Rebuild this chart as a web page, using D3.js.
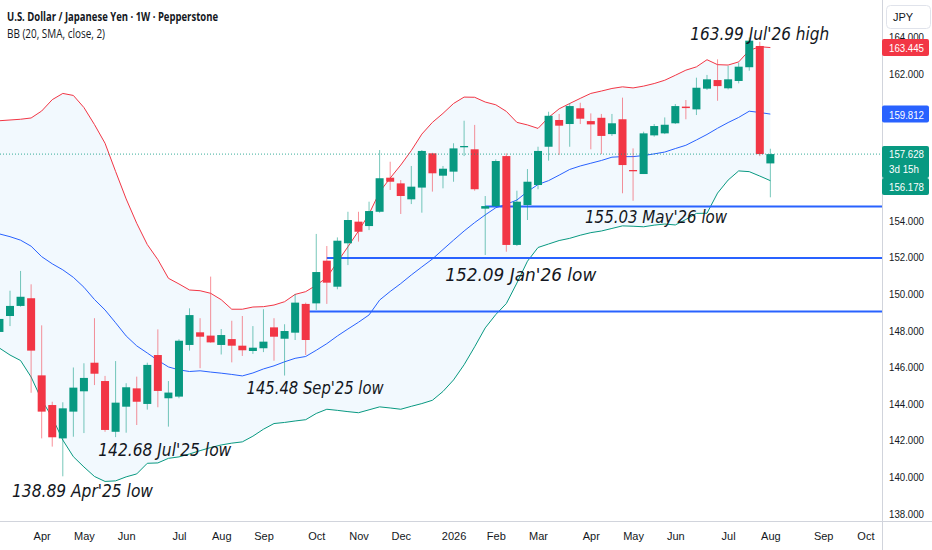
<!DOCTYPE html>
<html><head><meta charset="utf-8">
<script src="https://cdn.jsdelivr.net/npm/d3@7"></script>
<style>
html,body{margin:0;padding:0;background:#fff;overflow:hidden}
svg{display:block}
</style></head><body>
<svg id="c" width="932" height="550"></svg>
<script>
// ---------------- DATA ----------------
const dates = ["2025-03-10","2025-03-17","2025-03-24","2025-03-31","2025-04-07","2025-04-14","2025-04-21","2025-04-28",
"2025-05-05","2025-05-12","2025-05-19","2025-05-26","2025-06-02","2025-06-09","2025-06-16","2025-06-23","2025-06-30",
"2025-07-07","2025-07-14","2025-07-21","2025-07-28","2025-08-04","2025-08-11","2025-08-18","2025-08-25",
"2025-09-01","2025-09-08","2025-09-15","2025-09-22","2025-09-29","2025-10-06","2025-10-13","2025-10-20","2025-10-27",
"2025-11-03","2025-11-10","2025-11-17","2025-11-24","2025-12-01","2025-12-08","2025-12-15","2025-12-22","2025-12-29",
"2026-01-05","2026-01-12","2026-01-19","2026-01-26","2026-02-02","2026-02-09","2026-02-16","2026-02-23",
"2026-03-02","2026-03-09","2026-03-16","2026-03-23","2026-03-30","2026-04-06","2026-04-13","2026-04-20","2026-04-27",
"2026-05-04","2026-05-11","2026-05-18","2026-05-25","2026-06-01","2026-06-08","2026-06-15","2026-06-22","2026-06-29",
"2026-07-06","2026-07-13","2026-07-20","2026-07-27","2026-08-03"];
const opens  = [147.92,148.79,149.34,149.76,145.55,143.93,142.11,143.57,144.68,146.24,145.24,142.47,143.84,144.84,143.99,146.66,144.30,144.39,147.21,147.90,147.72,147.21,147.53,147.17,146.88,147.03,148.17,147.55,147.88,149.45,149.48,151.81,150.39,152.76,153.94,153.70,154.48,156.34,156.03,155.16,155.80,157.67,156.45,156.67,158.00,157.89,154.65,154.79,157.52,152.67,154.85,155.94,158.03,159.49,159.27,160.13,159.43,159.61,158.72,159.53,156.76,156.54,158.65,158.76,159.31,160.22,160.07,161.20,161.67,161.22,161.62,162.37,163.53,157.12];
const highs  = [148.90,150.17,151.25,150.52,148.28,144.11,144.08,145.98,146.21,148.67,145.52,146.33,145.12,145.48,146.24,148.06,145.24,147.52,149.21,148.67,150.94,148.08,148.53,148.79,148.24,149.16,148.67,148.34,149.99,149.52,153.27,152.61,153.08,154.48,154.48,155.03,157.85,157.21,156.21,156.98,157.85,157.70,156.98,158.22,159.45,159.22,155.34,157.34,157.67,155.63,156.81,158.03,159.94,159.82,160.40,160.43,159.85,159.82,159.82,160.71,157.94,158.85,159.27,159.63,160.36,160.58,161.80,161.95,162.80,162.44,162.62,163.99,163.76,157.92];
const lows   = [147.60,148.24,149.30,144.60,142.11,141.66,140.04,142.20,142.40,145.02,142.47,142.18,142.42,142.84,143.68,143.81,142.75,144.30,146.90,145.94,147.33,146.69,146.26,146.61,146.72,146.82,146.35,145.54,147.48,146.66,149.12,149.45,150.25,151.57,152.85,153.48,154.43,155.67,154.36,154.90,154.43,155.58,155.76,156.12,157.52,155.63,152.12,154.75,152.30,152.61,154.03,155.71,157.27,157.58,158.03,159.27,157.89,157.63,158.62,155.49,155.08,156.54,158.58,158.72,159.27,159.53,159.76,161.13,160.54,161.16,161.49,162.18,157.52,155.27];
const closes = [148.63,149.34,149.84,146.90,143.57,142.17,143.75,144.88,145.41,145.64,142.57,144.06,144.90,144.11,146.12,144.70,144.61,147.44,148.84,147.66,147.35,147.75,147.17,146.92,147.06,147.39,147.66,147.97,149.52,147.48,151.19,150.61,152.90,154.03,153.39,154.52,156.31,156.12,155.34,155.85,157.80,156.58,156.83,157.94,158.07,155.71,154.79,157.25,152.67,155.03,156.12,157.80,159.72,159.18,160.25,159.56,159.25,158.62,159.31,157.03,156.69,158.76,159.16,159.23,160.25,160.14,161.25,161.71,161.34,161.71,162.40,163.82,157.63,157.628];

// Bollinger Bands (20, SMA, close, 2)
const bbUpper = [159.45,159.49,159.53,159.60,159.98,160.60,160.94,160.83,160.17,159.24,158.22,156.68,155.18,153.85,152.69,151.87,150.85,150.54,150.21,150.17,150.03,149.68,149.16,149.16,149.28,149.30,149.39,149.57,149.97,150.12,150.47,150.89,151.74,152.57,153.43,154.36,155.56,156.32,157.03,157.82,158.72,159.36,159.85,160.39,160.74,160.73,160.47,160.32,159.96,159.36,159.22,159.03,159.63,160.10,160.39,160.67,160.94,161.07,161.21,161.30,161.24,161.34,161.48,161.66,161.93,162.21,162.39,162.78,162.51,162.49,162.66,163.29,163.49,163.445];
const bbBasis = [153.27,153.12,152.93,152.60,152.03,151.64,151.31,150.90,150.36,149.69,149.12,148.42,147.70,147.16,146.77,146.37,146.01,145.85,145.76,145.80,145.73,145.67,145.60,145.52,145.68,145.90,146.07,146.29,146.48,146.58,146.92,147.28,147.70,148.08,148.45,148.85,149.66,150.13,150.56,151.03,151.47,151.90,152.42,152.93,153.43,153.89,154.31,154.70,154.89,155.12,155.58,155.97,156.18,156.48,156.79,156.98,157.13,157.28,157.46,157.49,157.49,157.55,157.64,157.74,157.93,158.11,158.40,158.70,159.04,159.35,159.63,159.97,159.90,159.812];
const bbLower = [147.04,146.66,146.36,145.46,144.21,143.25,142.02,141.11,140.55,140.03,139.76,139.79,140.01,140.17,140.75,140.77,141.02,141.10,141.26,141.44,141.61,141.75,141.85,141.92,142.23,142.61,142.92,142.98,143.06,143.13,143.47,143.70,143.64,143.57,143.51,143.67,143.83,143.77,143.70,143.86,144.01,144.19,144.67,145.30,146.13,147.11,148.14,148.87,149.47,150.59,151.78,152.53,152.72,152.91,153.03,153.20,153.34,153.43,153.57,153.71,153.69,153.66,153.75,153.81,153.76,154.06,154.39,154.40,155.50,156.21,156.71,156.67,156.43,156.178];

// price ticks visible on the scale (156/158/160 sit behind the value labels)
const priceTicks = [138,140,142,144,146,148,150,152,154,162,164];
const monthTickDates  = ["2025-04-07","2025-05-05","2025-06-02","2025-07-07","2025-08-04","2025-09-01","2025-10-06","2025-11-03","2025-12-01","2026-01-05","2026-02-02","2026-03-02","2026-04-06","2026-05-04","2026-06-01","2026-07-06","2026-08-03","2026-09-07","2026-10-05"];
const monthTickLabels = ["Apr","May","Jun","Jul","Aug","Sep","Oct","Nov","Dec","2026","Feb","Mar","Apr","May","Jun","Jul","Aug","Sep","Oct"];

// horizontal support levels (price, start date)
const levelPrices = [154.77, 151.96, 149.03];
const levelStarts = ["2026-01-26","2025-10-13","2025-09-29"];

// annotation texts anchored at (date, price)
const annoTexts  = ["163.99 Jul'26 high","155.03 May'26 low","152.09 Jan'26 low","145.48 Sep'25 low","142.68 Jul'25 low","138.89 Apr'25 low"];
const annoDates  = ["2026-07-20","2026-05-04","2026-01-26","2025-09-15","2025-07-07","2025-04-21"];
const annoPrices = [163.99,155.03,152.09,145.48,142.68,138.89];

const lastPrice = 157.628, countdown = "3d 15h";

// ---------------- LAYOUT ----------------
const W = 932, H = 550, plotW = 882, plotH = 521;
const annoOffsets = [[-59,2.5,139],[-48,21.3,142],[-40,25,151],[-38,17.4,137],[-80.7,27.8,133],[-50.8,0,141]];
const GREEN = "#089981", RED = "#f23645", BLUE = "#2962ff", TXT = "#131722";
const axisFont = "'Liberation Sans',Arial,sans-serif";

const parse = d3.utcParse("%Y-%m-%d");
const bars = dates.map((d,i)=>({date:parse(d),o:opens[i],h:highs[i],l:lows[i],c:closes[i],up:bbUpper[i],mid:bbBasis[i],lo:bbLower[i]}));

const x = d3.scaleUtc().domain([parse("2025-03-17"), parse("2026-10-05")]).range([10, 865.4]);
const y = d3.scaleLinear().domain([137.60, 166.04]).range([plotH, 0]);

const svg = d3.select("#c");
svg.append("rect").attr("width",W).attr("height",H).attr("fill","#fff");
svg.append("defs").append("clipPath").attr("id","clip").append("rect").attr("width",plotW).attr("height",plotH);
const g = svg.append("g").attr("clip-path","url(#clip)");

// band fill
g.append("path").datum(bars)
 .attr("d", d3.area().x(d=>x(d.date)).y0(d=>y(d.lo)).y1(d=>y(d.up)))
 .attr("fill","rgba(33,150,243,0.06)");

// band lines
[["up",RED],["mid",BLUE],["lo",GREEN]].forEach(([k,col])=>{
  g.append("path").datum(bars)
   .attr("d", d3.line().x(d=>x(d.date)).y(d=>y(d[k])))
   .attr("fill","none").attr("stroke",col).attr("stroke-width",1);
});

// levels
levelPrices.forEach((p,i)=>{
  g.append("line").attr("x1",x(parse(levelStarts[i]))).attr("x2",plotW)
   .attr("y1",y(p)).attr("y2",y(p)).attr("stroke",BLUE).attr("stroke-width",2);
});

// candles
const cg = g.selectAll("g.candle").data(bars).enter().append("g");
cg.append("line")
  .attr("x1",d=>x(d.date)).attr("x2",d=>x(d.date))
  .attr("y1",d=>y(d.h)).attr("y2",d=>y(d.l))
  .attr("stroke",d=>d.c>=d.o?GREEN:RED).attr("stroke-opacity",0.55).attr("stroke-width",1);
cg.append("rect")
  .attr("x",d=>x(d.date)-4).attr("width",8)
  .attr("y",d=>y(Math.max(d.o,d.c)))
  .attr("height",d=>Math.max(1.2,Math.abs(y(d.o)-y(d.c))))
  .attr("fill",d=>d.c>=d.o?GREEN:RED);

// last price dotted line
g.append("line").attr("x1",0).attr("x2",plotW).attr("y1",y(lastPrice)).attr("y2",y(lastPrice))
 .attr("stroke",GREEN).attr("stroke-width",1).attr("stroke-dasharray","1,2").attr("stroke-opacity",0.8);

// annotations
annoTexts.forEach((t,i)=>{
  const [dx,dy,len] = annoOffsets[i];
  g.append("text").attr("x",x(parse(annoDates[i]))+dx).attr("y",y(annoPrices[i])+dy)
   .attr("font-family","'DejaVu Sans Condensed','DejaVu Sans',sans-serif").attr("font-style","italic")
   .attr("font-size",18).attr("fill",TXT)
   .attr("textLength",len).attr("lengthAdjust","spacingAndGlyphs").text(t);
});

// axes separators
svg.append("line").attr("x1",plotW+0.5).attr("x2",plotW+0.5).attr("y1",0).attr("y2",H).attr("stroke","#d1d4dc");
svg.append("line").attr("x1",0).attr("x2",W).attr("y1",plotH+0.5).attr("y2",plotH+0.5).attr("stroke","#d1d4dc");

// right axis
const ya = svg.append("g").attr("transform",`translate(${plotW},0)`)
  .call(d3.axisRight(y).tickValues(priceTicks).tickFormat(d=>d.toFixed(3)).tickSize(0).tickPadding(7));
ya.select(".domain").remove();
ya.selectAll("text").attr("font-family",axisFont).attr("font-size",11).attr("fill",TXT)
  .attr("textLength",35).attr("lengthAdjust","spacingAndGlyphs");

// bottom axis
const xa = svg.append("g").attr("transform",`translate(0,${plotH})`)
  .call(d3.axisBottom(x).tickValues(monthTickDates.map(parse)).tickFormat((d,i)=>monthTickLabels[i]).tickSize(0).tickPadding(11));
xa.select(".domain").remove();
xa.selectAll("text").attr("font-family",axisFont).attr("font-size",11).attr("fill",TXT);

// JPY box
svg.append("rect").attr("x",886.5).attr("y",5.5).attr("width",44).attr("height",23).attr("rx",4)
 .attr("fill","#fff").attr("stroke","#e0e3eb");
svg.append("text").attr("x",893).attr("y",21).attr("font-family",axisFont).attr("font-size",11).attr("fill",TXT).text("JPY");

// price labels
function priceBox(yTop, h, col){
  svg.append("rect").attr("x",plotW).attr("y",yTop).attr("width",47).attr("height",h).attr("rx",2).attr("fill",col);
}
function boxText(t, yb, len){
  svg.append("text").attr("x",889).attr("y",yb).attr("font-family",axisFont).attr("font-size",11).attr("fill","#fff")
   .attr("textLength",len).attr("lengthAdjust","spacingAndGlyphs").text(t);
}
const uLast = bbUpper[bbUpper.length-1], mLast = bbBasis[bbBasis.length-1], lLast = bbLower[bbLower.length-1];
priceBox(y(uLast)-8.5,17,RED); boxText(uLast.toFixed(3), y(uLast)+4.5, 35);
priceBox(y(mLast)-8.5,17,BLUE); boxText(mLast.toFixed(3), y(mLast)+4.8, 35);
const pTop = y(lastPrice)-8;
priceBox(pTop,32,GREEN); boxText(lastPrice.toFixed(3), y(lastPrice)+4, 35);
boxText(countdown, y(lastPrice)+19, 30);
priceBox(pTop+32,17,GREEN); boxText(lLast.toFixed(3), pTop+44.5, 35);

// header
svg.append("text").attr("x",7).attr("y",21).attr("font-family","'Open Sans',sans-serif").attr("font-weight","bold")
 .attr("font-size",12.5).attr("fill",TXT).attr("textLength",211).attr("lengthAdjust","spacingAndGlyphs")
 .text("U.S. Dollar / Japanese Yen · 1W · Pepperstone");
svg.append("text").attr("x",7).attr("y",38).attr("font-family","'Open Sans',sans-serif")
 .attr("font-size",12).attr("fill",TXT).attr("textLength",98).attr("lengthAdjust","spacingAndGlyphs")
 .text("BB (20, SMA, close, 2)");
</script>
</body></html>
